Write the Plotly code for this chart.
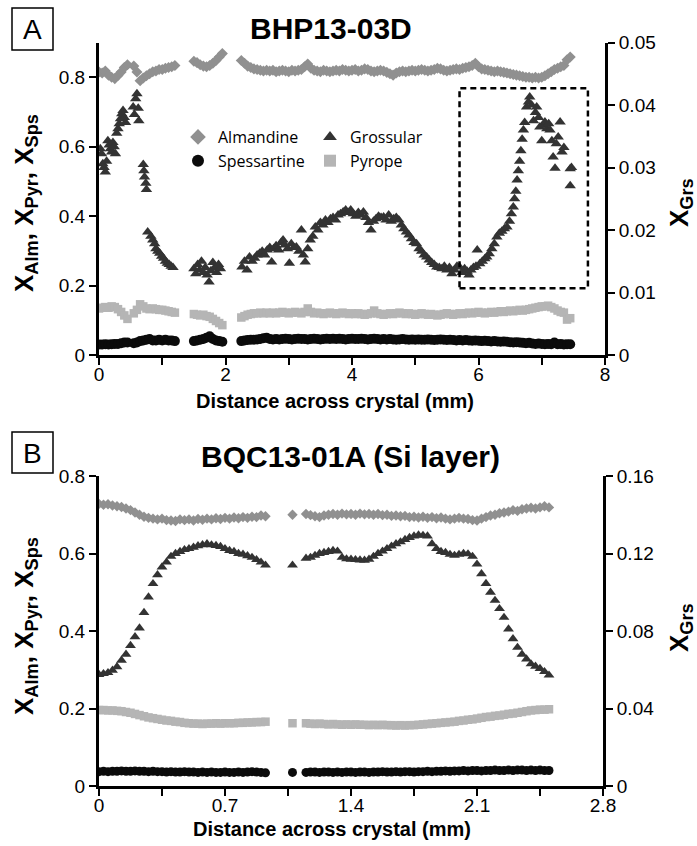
import plotly.graph_objects as go

# ---------------- Panel A: BHP13-03D ----------------
# distance along the traverse (mm), shared by almandine, spessartine and pyrope
dist_a = [
    0.00, 0.05, 0.10, 0.15, 0.20, 0.25, 0.30, 0.35, 0.40, 0.45,
    0.55, 0.60, 0.65, 0.70, 0.75, 0.80, 0.85, 0.90, 0.95, 1.00, 1.05, 1.10, 1.15, 1.20,
    1.50, 1.55, 1.60, 1.65, 1.70, 1.75, 1.80, 1.85, 1.90, 1.95,
    2.25, 2.30, 2.35, 2.40, 2.45, 2.50, 2.55, 2.60, 2.65, 2.70,
    2.75, 2.80, 2.85, 2.90, 2.95, 3.00, 3.05, 3.10, 3.15, 3.20,
    3.25, 3.30, 3.35, 3.40, 3.45, 3.50, 3.55, 3.60, 3.65, 3.70,
    3.75, 3.80, 3.85, 3.90, 3.95, 4.00, 4.05, 4.10, 4.15, 4.20,
    4.25, 4.30, 4.35, 4.40, 4.45, 4.50, 4.55, 4.60, 4.65, 4.70,
    4.75, 4.80, 4.85, 4.90, 4.95, 5.00, 5.05, 5.10, 5.15, 5.20,
    5.25, 5.30, 5.35, 5.40, 5.45, 5.50, 5.55, 5.60, 5.65, 5.70,
    5.75, 5.80, 5.85, 5.90, 5.95, 6.00, 6.05, 6.10, 6.15, 6.20,
    6.25, 6.30, 6.35, 6.40, 6.45, 6.50, 6.55, 6.60, 6.65, 6.70,
    6.75, 6.80, 6.85, 6.90, 6.95, 7.00, 7.05, 7.10, 7.15, 7.20,
    7.25, 7.30, 7.35, 7.40, 7.45,
]
alm_a = [
    0.815, 0.812, 0.818, 0.806, 0.800, 0.796, 0.805, 0.815, 0.828, 0.836,
    0.832, 0.815, 0.790, 0.798, 0.804, 0.810, 0.816, 0.818, 0.822, 0.822, 0.826, 0.828, 0.830, 0.834,
    0.846, 0.842, 0.836, 0.832, 0.830, 0.834, 0.840, 0.848, 0.858, 0.868,
    0.848, 0.840, 0.832, 0.828, 0.824, 0.822, 0.820, 0.818, 0.820, 0.818,
    0.820, 0.816, 0.818, 0.820, 0.818, 0.816, 0.820, 0.818, 0.820, 0.822,
    0.830, 0.838, 0.826, 0.820, 0.818, 0.816, 0.820, 0.818, 0.816, 0.818,
    0.820, 0.818, 0.822, 0.820, 0.818, 0.820, 0.822, 0.818, 0.820, 0.824,
    0.822, 0.818, 0.816, 0.818, 0.820, 0.818, 0.814, 0.810, 0.806, 0.812,
    0.816, 0.818, 0.816, 0.818, 0.820, 0.818, 0.820, 0.822, 0.820, 0.818,
    0.820, 0.822, 0.826, 0.824, 0.820, 0.818, 0.820, 0.822, 0.824, 0.822,
    0.826, 0.828, 0.830, 0.834, 0.840, 0.830, 0.824, 0.822, 0.820, 0.818,
    0.816, 0.818, 0.816, 0.814, 0.812, 0.810, 0.808, 0.806, 0.804, 0.802,
    0.800, 0.800, 0.798, 0.800, 0.798, 0.800, 0.804, 0.810, 0.816, 0.822,
    0.826, 0.830, 0.834, 0.850, 0.858,
]
pyr_a = [
    0.134, 0.136, 0.138, 0.136, 0.140, 0.138, 0.132, 0.124, 0.114, 0.104,
    0.120, 0.130, 0.146, 0.140, 0.134, 0.132, 0.134, 0.132, 0.130, 0.130, 0.128, 0.126, 0.124, 0.122,
    0.118, 0.116, 0.114, 0.116, 0.112, 0.110, 0.104, 0.098, 0.092, 0.086,
    0.108, 0.112, 0.116, 0.118, 0.120, 0.120, 0.122, 0.120, 0.122, 0.120,
    0.122, 0.120, 0.122, 0.124, 0.122, 0.120, 0.122, 0.124, 0.122, 0.120,
    0.124, 0.134, 0.124, 0.120, 0.122, 0.120, 0.118, 0.120, 0.122, 0.120,
    0.118, 0.120, 0.122, 0.120, 0.118, 0.120, 0.118, 0.120, 0.118, 0.116,
    0.118, 0.120, 0.128, 0.120, 0.118, 0.116, 0.118, 0.120, 0.118, 0.120,
    0.122, 0.120, 0.118, 0.120, 0.118, 0.116, 0.118, 0.120, 0.118, 0.116,
    0.118, 0.116, 0.114, 0.116, 0.118, 0.120, 0.118, 0.116, 0.118, 0.120,
    0.118, 0.120, 0.122, 0.120, 0.122, 0.124, 0.122, 0.120, 0.122, 0.124,
    0.122, 0.124, 0.126, 0.124, 0.126, 0.128, 0.126, 0.128, 0.130, 0.128,
    0.130, 0.132, 0.134, 0.136, 0.138, 0.140, 0.140, 0.142, 0.138, 0.134,
    0.128, 0.124, 0.122, 0.102, 0.106,
]
sps_a = [
    0.030, 0.030, 0.031, 0.030, 0.031, 0.032, 0.032, 0.034, 0.036, 0.036,
    0.034, 0.036, 0.040, 0.042, 0.044, 0.046, 0.042, 0.042, 0.044, 0.042, 0.044, 0.042, 0.042, 0.040,
    0.040, 0.042, 0.044, 0.046, 0.050, 0.054, 0.046, 0.042, 0.040, 0.038,
    0.040, 0.042, 0.043, 0.044, 0.044, 0.045, 0.046, 0.048, 0.050, 0.046,
    0.045, 0.046, 0.045, 0.046, 0.047, 0.046, 0.045, 0.046, 0.047, 0.046,
    0.046, 0.045, 0.046, 0.047, 0.046, 0.045, 0.046, 0.047, 0.046, 0.047,
    0.046, 0.047, 0.046, 0.045, 0.046, 0.047, 0.046, 0.046, 0.047, 0.046,
    0.045, 0.046, 0.047, 0.046, 0.045, 0.046, 0.045, 0.046, 0.045, 0.044,
    0.045, 0.046, 0.045, 0.044, 0.045, 0.044, 0.045, 0.044, 0.044, 0.045,
    0.044, 0.043, 0.044, 0.045, 0.044, 0.043, 0.044, 0.043, 0.042, 0.043,
    0.042, 0.043, 0.042, 0.041, 0.042, 0.041, 0.040, 0.041, 0.040, 0.039,
    0.040, 0.039, 0.038, 0.039, 0.038, 0.037, 0.036, 0.037, 0.036, 0.035,
    0.034, 0.035, 0.033, 0.032, 0.033, 0.032, 0.031, 0.032, 0.031, 0.036,
    0.031, 0.032, 0.030, 0.031, 0.031,
]
# grossular analyses (right axis)
dist_grs_a = [
    0.02, 0.04, 0.06, 0.08, 0.10, 0.12, 0.14, 0.16, 0.18, 0.20, 0.22, 0.24, 0.26,
    0.28, 0.30, 0.32, 0.34, 0.36, 0.38, 0.40, 0.42,
    0.54, 0.56, 0.58, 0.60, 0.62, 0.63, 0.70, 0.71, 0.72, 0.74, 0.75, 0.77,
    0.82, 0.85, 0.88, 0.90, 0.93, 0.96, 0.99, 1.02, 1.05, 1.08, 1.11, 1.14, 1.17,
    1.50, 1.53, 1.56, 1.59, 1.62, 1.65, 1.68, 1.71, 1.74, 1.77, 1.80, 1.83, 1.86, 1.89, 1.92,
    2.26, 2.30, 2.34, 2.38, 2.42, 2.46, 2.50, 2.54, 2.58, 2.62, 2.66, 2.70, 2.73, 2.76,
    2.80, 2.84, 2.88, 2.91, 2.94, 2.98, 3.01, 3.04, 3.08, 3.12, 3.16, 3.20, 3.23, 3.26,
    3.30, 3.34, 3.38, 3.42, 3.46, 3.50, 3.54, 3.58, 3.62, 3.66, 3.70, 3.74, 3.78, 3.82,
    3.86, 3.90, 3.94, 3.98, 4.02, 4.06, 4.10, 4.14, 4.18, 4.22, 4.26, 4.30, 4.34, 4.38,
    4.42, 4.46, 4.50, 4.54, 4.58, 4.62, 4.66, 4.70, 4.74, 4.78, 4.82, 4.86, 4.90, 4.94,
    4.98, 5.02, 5.06, 5.10, 5.14, 5.18, 5.22, 5.26, 5.30, 5.34, 5.38, 5.42, 5.46, 5.50,
    5.54, 5.58, 5.62, 5.66, 5.70, 5.74, 5.78, 5.82, 5.85, 5.88, 5.92, 5.96, 5.98, 6.02,
    6.06, 6.10, 6.13, 6.17, 6.21, 6.25, 6.29, 6.33, 6.37, 6.41, 6.45, 6.49, 6.52, 6.55,
    6.57, 6.59, 6.61, 6.63, 6.65, 6.67, 6.69, 6.71, 6.73, 6.76, 6.79, 6.81, 6.84, 6.87,
    6.90, 6.92, 6.95, 6.97, 7.00, 7.03, 7.05, 7.08, 7.11, 7.13, 7.16, 7.18, 7.21, 7.23,
    7.26, 7.29, 7.32, 7.35, 7.45, 7.45, 7.47,
]
grs_a = [
    0.0330, 0.0322, 0.0306, 0.0300, 0.0293, 0.0310, 0.0343, 0.0336, 0.0330, 0.0325, 0.0340, 0.0333, 0.0322,
    0.0355, 0.0362, 0.0370, 0.0378, 0.0386, 0.0391, 0.0380, 0.0372,
    0.0397, 0.0385, 0.0410, 0.0418, 0.0395, 0.0375, 0.0305, 0.0295, 0.0285, 0.0275, 0.0265, 0.0197,
    0.0190, 0.0184, 0.0178, 0.0170, 0.0166, 0.0163, 0.0158, 0.0155, 0.0150, 0.0147, 0.0145, 0.0142, 0.0140,
    0.0138, 0.0130, 0.0145, 0.0136, 0.0150, 0.0132, 0.0140, 0.0128, 0.0117, 0.0135, 0.0148, 0.0140, 0.0132, 0.0145, 0.0138,
    0.0141, 0.0150, 0.0136, 0.0157, 0.0150, 0.0155, 0.0160, 0.0163, 0.0166, 0.0160, 0.0168, 0.0172, 0.0149, 0.0170,
    0.0175, 0.0168, 0.0180, 0.0184, 0.0176, 0.0170, 0.0147, 0.0178, 0.0172, 0.0173, 0.0166, 0.0200, 0.0160, 0.0149,
    0.0170, 0.0184, 0.0190, 0.0205, 0.0200, 0.0212, 0.0208, 0.0216, 0.0212, 0.0218, 0.0220, 0.0216, 0.0224, 0.0226,
    0.0229, 0.0232, 0.0228, 0.0232, 0.0226, 0.0222, 0.0228, 0.0224, 0.0229, 0.0220, 0.0212, 0.0200, 0.0214, 0.0218,
    0.0222, 0.0220, 0.0221, 0.0216, 0.0224, 0.0214, 0.0218, 0.0220, 0.0216, 0.0208, 0.0202, 0.0197, 0.0192, 0.0186,
    0.0180, 0.0178, 0.0170, 0.0166, 0.0160, 0.0157, 0.0152, 0.0148, 0.0145, 0.0141, 0.0140, 0.0138, 0.0142, 0.0136,
    0.0140, 0.0130, 0.0136, 0.0142, 0.0141, 0.0132, 0.0138, 0.0134, 0.0128, 0.0136, 0.0140, 0.0142, 0.0168, 0.0146,
    0.0150, 0.0154, 0.0157, 0.0162, 0.0170, 0.0178, 0.0189, 0.0195, 0.0198, 0.0202, 0.0205, 0.0214, 0.0226, 0.0237,
    0.0250, 0.0262, 0.0280, 0.0295, 0.0310, 0.0327, 0.0345, 0.0360, 0.0372, 0.0397, 0.0405, 0.0413, 0.0400, 0.0375,
    0.0388, 0.0397, 0.0380, 0.0365, 0.0343, 0.0368, 0.0373, 0.0362, 0.0370, 0.0360, 0.0343, 0.0317, 0.0299, 0.0338,
    0.0349, 0.0373, 0.0325, 0.0332, 0.0298, 0.0271, 0.0300,
]

# ---------------- Panel B: BQC13-01A (Si layer) ----------------
dist_b = [
    0.000, 0.025, 0.050, 0.075, 0.100, 0.125, 0.150, 0.175, 0.200, 0.225,
    0.250, 0.275, 0.300, 0.325, 0.350, 0.375, 0.400, 0.425, 0.450, 0.475,
    0.500, 0.525, 0.550, 0.575, 0.600, 0.625, 0.650, 0.675, 0.700, 0.725,
    0.750, 0.775, 0.800, 0.825, 0.850, 0.875, 0.900, 0.925,
    1.075,
    1.150, 1.175, 1.200, 1.225, 1.250, 1.275, 1.300, 1.325, 1.350, 1.375,
    1.400, 1.425, 1.450, 1.475, 1.500, 1.525, 1.550, 1.575, 1.600, 1.625,
    1.650, 1.675, 1.700, 1.725, 1.750, 1.775, 1.800, 1.825, 1.850, 1.875,
    1.900, 1.925, 1.950, 1.975, 2.000, 2.025, 2.050, 2.075, 2.100, 2.125,
    2.150, 2.175, 2.200, 2.225, 2.250, 2.275, 2.300, 2.325, 2.350, 2.375,
    2.400, 2.425, 2.450, 2.475, 2.500,
]
alm_b = [
    0.728, 0.726, 0.727, 0.724, 0.722, 0.720, 0.716, 0.712, 0.706, 0.700,
    0.695, 0.692, 0.690, 0.688, 0.690, 0.686, 0.685, 0.684, 0.688, 0.686,
    0.688, 0.685, 0.689, 0.687, 0.690, 0.688, 0.691, 0.689, 0.692, 0.690,
    0.693, 0.691, 0.694, 0.692, 0.695, 0.694, 0.698, 0.696,
    0.700,
    0.702, 0.699, 0.696, 0.694, 0.698, 0.700, 0.702, 0.700, 0.703, 0.701,
    0.702, 0.700, 0.703, 0.701, 0.702, 0.700, 0.702, 0.699, 0.700, 0.697,
    0.698, 0.696, 0.697, 0.694, 0.695, 0.693, 0.695, 0.692, 0.694, 0.691,
    0.693, 0.690, 0.688, 0.690, 0.692, 0.690, 0.689, 0.686, 0.685, 0.690,
    0.694, 0.698, 0.700, 0.704, 0.706, 0.708, 0.712, 0.710, 0.714, 0.716,
    0.718, 0.716, 0.719, 0.722, 0.719,
]
pyr_b = [
    0.196, 0.196, 0.195, 0.195, 0.194, 0.193, 0.191, 0.189, 0.186, 0.183,
    0.180, 0.177, 0.175, 0.173, 0.171, 0.169, 0.168, 0.166, 0.165, 0.163,
    0.162, 0.161, 0.161, 0.160, 0.161, 0.161, 0.162, 0.161, 0.162, 0.162,
    0.162, 0.163, 0.163, 0.164, 0.164, 0.165, 0.165, 0.166,
    0.162,
    0.162, 0.161, 0.160, 0.161, 0.160, 0.159, 0.160, 0.159, 0.158, 0.159,
    0.158, 0.159, 0.158, 0.158, 0.157, 0.158, 0.157, 0.158, 0.157, 0.157,
    0.156, 0.157, 0.156, 0.157, 0.157, 0.158, 0.159, 0.160, 0.161, 0.162,
    0.163, 0.164, 0.165, 0.166, 0.168, 0.169, 0.171, 0.172, 0.174, 0.176,
    0.178, 0.179, 0.181, 0.182, 0.184, 0.186, 0.187, 0.189, 0.191, 0.193,
    0.195, 0.196, 0.197, 0.197, 0.198,
]
sps_b = [
    0.037, 0.038, 0.037, 0.038, 0.038, 0.039, 0.038, 0.038, 0.039, 0.038,
    0.038, 0.037, 0.038, 0.037, 0.037, 0.036, 0.037, 0.036, 0.036, 0.037,
    0.036, 0.036, 0.035, 0.036, 0.035, 0.036, 0.035, 0.035, 0.036, 0.035,
    0.035, 0.036, 0.035, 0.036, 0.037, 0.036, 0.035, 0.034,
    0.035,
    0.035, 0.036, 0.036, 0.035, 0.036, 0.036, 0.035, 0.036, 0.035, 0.036,
    0.036, 0.035, 0.036, 0.036, 0.035, 0.036, 0.036, 0.037, 0.036, 0.036,
    0.037, 0.036, 0.037, 0.037, 0.036, 0.037, 0.037, 0.038, 0.037, 0.038,
    0.038, 0.039, 0.038, 0.039, 0.039, 0.040, 0.039, 0.040, 0.040, 0.039,
    0.040, 0.040, 0.041, 0.040, 0.040, 0.041, 0.040, 0.041, 0.041, 0.040,
    0.041, 0.040, 0.041, 0.040, 0.040,
]
grs_b = [
    0.0575, 0.0580, 0.0585, 0.0597, 0.0615, 0.0649, 0.0680, 0.0725, 0.0770, 0.0815,
    0.0895, 0.0975, 0.1044, 0.1090, 0.1130, 0.1155, 0.1185, 0.1200, 0.1210, 0.1220,
    0.1225, 0.1232, 0.1240, 0.1245, 0.1250, 0.1244, 0.1241, 0.1236, 0.1225, 0.1215,
    0.1210, 0.1200, 0.1196, 0.1188, 0.1180, 0.1168, 0.1155, 0.1140,
    0.1140,
    0.1175, 0.1180, 0.1190, 0.1200, 0.1205, 0.1210, 0.1215, 0.1212, 0.1180, 0.1172,
    0.1170, 0.1168, 0.1166, 0.1165, 0.1170, 0.1185, 0.1200, 0.1212, 0.1225, 0.1238,
    0.1250, 0.1260, 0.1272, 0.1282, 0.1290, 0.1295, 0.1293, 0.1290, 0.1250, 0.1225,
    0.1210, 0.1205, 0.1195, 0.1190, 0.1195, 0.1200, 0.1198, 0.1185, 0.1145, 0.1095,
    0.1045, 0.1000, 0.0958, 0.0915, 0.0870, 0.0810, 0.0760, 0.0715, 0.0680, 0.0655,
    0.0630, 0.0618, 0.0606, 0.0590, 0.0572,
]

# axis ticks (labelled major ticks, unlabelled minor ticks between them)
xtick_a = [0, 2, 4, 6, 8]
xminor_a = [1, 3, 5, 7]
ytick_a = [0, 0.2, 0.4, 0.6, 0.8]
ytext_a = ["0", "0.2", "0.4", "0.6", "0.8"]
y2tick_a = [0, 0.01, 0.02, 0.03, 0.04, 0.05]
y2text_a = ["0", "0.01", "0.02", "0.03", "0.04", "0.05"]
xtick_b = [0, 0.7, 1.4, 2.1, 2.8]
xtext_b = ["0", "0.7", "1.4", "2.1", "2.8"]
xminor_b = [0.35, 1.05, 1.75, 2.45]
ytick_b = [0, 0.2, 0.4, 0.6, 0.8]
ytext_b = ["0", "0.2", "0.4", "0.6", "0.8"]
y2tick_b = [0, 0.04, 0.08, 0.12, 0.16]
y2text_b = ["0", "0.04", "0.08", "0.12", "0.16"]

# dashed outline around the grossular rim in panel A (x0, x1 in mm; y0, y1 in X_Grs)
rim_box_a = [5.70, 7.73, 0.0107, 0.0427]

W, H = 697, 846
SANS = "Liberation Sans, Arial, sans-serif"
C_ALM, C_GRS, C_SPS, C_PYR = "#909090", "#333333", "#0b0b0b", "#b5b5b5"


def px(xp):
    return xp / W


def py(yp):
    return 1 - yp / H


fig = go.Figure()

# panel A
fig.add_trace(go.Scatter(x=dist_a, y=alm_a, mode="markers", name="Almandine",
                         marker=dict(symbol="diamond", size=8.5, color=C_ALM),
                         xaxis="x", yaxis="y", legend="legend", legendgroup="alm"))
fig.add_trace(go.Scatter(x=dist_a, y=sps_a, mode="markers", name="Spessartine",
                         marker=dict(symbol="circle", size=10, color=C_SPS),
                         xaxis="x", yaxis="y", legend="legend", legendgroup="sps"))
fig.add_trace(go.Scatter(x=dist_grs_a, y=grs_a, mode="markers", name="Grossular",
                         marker=dict(symbol="triangle-up", size=10, color=C_GRS),
                         xaxis="x", yaxis="y2", legend="legend2", legendgroup="grs"))
fig.add_trace(go.Scatter(x=dist_a, y=pyr_a, mode="markers", name="Pyrope",
                         marker=dict(symbol="square", size=8.5, color=C_PYR),
                         xaxis="x", yaxis="y", legend="legend2", legendgroup="pyr"))

# panel B
fig.add_trace(go.Scatter(x=dist_b, y=alm_b, mode="markers", showlegend=False,
                         marker=dict(symbol="diamond", size=8, color=C_ALM),
                         xaxis="x2", yaxis="y3"))
fig.add_trace(go.Scatter(x=dist_b, y=sps_b, mode="markers", showlegend=False,
                         marker=dict(symbol="circle", size=9, color=C_SPS),
                         xaxis="x2", yaxis="y3"))
fig.add_trace(go.Scatter(x=dist_b, y=grs_b, mode="markers", showlegend=False,
                         marker=dict(symbol="triangle-up", size=9.5, color=C_GRS),
                         xaxis="x2", yaxis="y4"))
fig.add_trace(go.Scatter(x=dist_b, y=pyr_b, mode="markers", showlegend=False,
                         marker=dict(symbol="square", size=8.5, color=C_PYR),
                         xaxis="x2", yaxis="y3"))

axis_common = dict(showline=True, linewidth=3, linecolor="black", ticks="outside",
                   ticklen=7, tickwidth=2, tickcolor="black", showgrid=False,
                   zeroline=False, automargin=False, fixedrange=True,
                   tickfont=dict(family=SANS, size=19, color="black"))
minor_common = dict(ticks="outside", ticklen=7, tickwidth=2, tickcolor="black",
                    showgrid=False)

dom_x_a = [px(99), px(605)]
dom_x_b = [px(99), px(603)]
dom_y_a = [py(355), py(42.5)]
dom_y_b = [py(786), py(476)]

legend_font = dict(family="Open Sans", size=16, color="black")

fig.update_layout(
    width=W, height=H, autosize=False,
    margin=dict(l=0, r=0, t=0, b=0, autoexpand=False),
    paper_bgcolor="white", plot_bgcolor="white",
    xaxis=dict(domain=dom_x_a, range=[0, 8], anchor="y", ticklabelstandoff=-7,
               tickmode="array", tickvals=xtick_a,
               minor=dict(tickmode="array", tickvals=xminor_a, **minor_common),
               **axis_common),
    yaxis=dict(domain=dom_y_a, range=[0, 0.9], anchor="x",
               tickmode="array", tickvals=ytick_a, ticktext=ytext_a, **axis_common),
    yaxis2=dict(range=[0, 0.05], overlaying="y", side="right", anchor="x",
                tickmode="array", tickvals=y2tick_a, ticktext=y2text_a, **axis_common),
    xaxis2=dict(domain=dom_x_b, range=[0, 2.8], anchor="y3", ticklabelstandoff=-7,
                tickmode="array", tickvals=xtick_b, ticktext=xtext_b,
                minor=dict(tickmode="array", tickvals=xminor_b, **minor_common),
                **axis_common),
    yaxis3=dict(domain=dom_y_b, range=[0, 0.8], anchor="x2",
                tickmode="array", tickvals=ytick_b, ticktext=ytext_b, **axis_common),
    yaxis4=dict(range=[0, 0.16], overlaying="y3", side="right", anchor="x2",
                tickmode="array", tickvals=y2tick_b, ticktext=y2text_b, **axis_common),
    legend=dict(x=px(178), y=py(120), xanchor="left", yanchor="top", font=legend_font,
                itemsizing="constant", tracegroupgap=0, bgcolor="rgba(0,0,0,0)"),
    legend2=dict(x=px(310), y=py(120), xanchor="left", yanchor="top", font=legend_font,
                 itemsizing="constant", tracegroupgap=0, bgcolor="rgba(0,0,0,0)"),
)

# dashed outline in panel A and panel label boxes
fig.add_shape(type="rect", xref="x", yref="y2",
              x0=rim_box_a[0], x1=rim_box_a[1], y0=rim_box_a[2], y1=rim_box_a[3],
              line=dict(color="black", width=2.5, dash="6px,4px"))
for top, bottom in [(8, 50), (432, 473)]:
    fig.add_shape(type="rect", xref="paper", yref="paper",
                  x0=px(12), x1=px(53), y0=py(bottom), y1=py(top),
                  line=dict(color="black", width=1.5))

ann = []


def text(x, y, s, size, angle=0, family=SANS):
    ann.append(dict(x=px(x), y=py(y), xref="paper", yref="paper", text=s,
                    showarrow=False, textangle=angle, xanchor="center", yanchor="middle",
                    font=dict(family=family, size=size, color="black")))


text(32.5, 29.5, "A", 28)
text(32.5, 453, "B", 28)
text(331, 28, "<b>BHP13-03D</b>", 30)
text(350, 457, "<b>BQC13-01A (Si layer)</b>", 30)
text(335, 401, "<b>Distance across crystal (mm)</b>", 20)
text(332, 829, "<b>Distance across crystal (mm)</b>", 20)
y_title = "<b>X<sub>Alm</sub>, X<sub>Pyr</sub>, X<sub>Sps</sub></b>"
grs_title = "<b>X<sub>Grs</sub></b>"
text(25, 203, y_title, 26, angle=-90)
text(25, 626, y_title, 26, angle=-90)
text(680, 203, grs_title, 26, angle=-90)
text(680, 628, grs_title, 26, angle=-90)
fig.update_layout(annotations=ann)

fig.write_html("out.html")
